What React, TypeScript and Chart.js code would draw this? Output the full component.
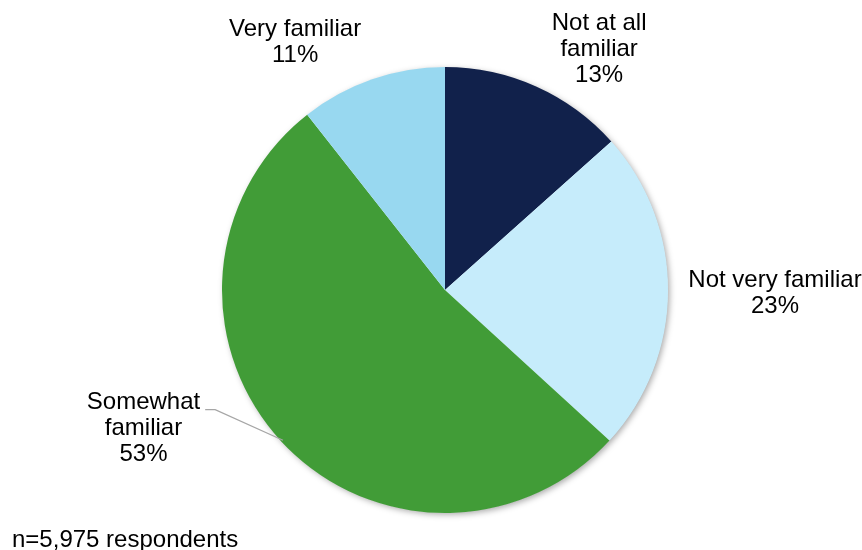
import React, { useEffect, useRef } from "react";
import { Chart, registerables } from "chart.js";

Chart.register(...registerables);

const categories = ["Not at all\nfamiliar", "Not very familiar", "Somewhat\nfamiliar", "Very familiar"];
const values = [13.4, 23.4, 52.6, 10.6];
const colors = ["#11214B", "#C6ECFB", "#419C37", "#98D8F0"];
const footnote = "n=5,975 respondents";
// label offsets (px) from the slice's outer mid-point
const labelOffsets = [
  [63, -37],
  [107, 2],
  [-138, -13],
  [-77, -37],
];

const FONT = "'Liberation Sans', Arial, sans-serif";

export default function App() {
  const ref = useRef<HTMLCanvasElement>(null);

  useEffect(() => {
    document.body.style.margin = "0";
    const shadowPlugin = {
      id: "pieShadow",
      beforeDatasetsDraw(chart: any) {
        const meta = chart.getDatasetMeta(0);
        const arc = meta.data[0];
        if (!arc) return;
        const { x, y, outerRadius } = arc.getProps(["x", "y", "outerRadius"], true);
        const ctx = chart.ctx;
        ctx.save();
        ctx.shadowColor = "rgba(0,0,0,0.35)";
        ctx.shadowBlur = 6;
        ctx.shadowOffsetX = 2;
        ctx.shadowOffsetY = 2;
        ctx.fillStyle = "#ffffff";
        ctx.beginPath();
        ctx.arc(x, y, outerRadius - 0.5, 0, Math.PI * 2);
        ctx.fill();
        ctx.restore();
      },
    };
    const labelPlugin = {
      id: "pieLabels",
      afterDatasetsDraw(chart: any) {
        const ctx = chart.ctx;
        const meta = chart.getDatasetMeta(0);
        ctx.save();
        ctx.font = `24px ${FONT}`;
        ctx.fillStyle = "#000000";
        ctx.textAlign = "center";
        ctx.textBaseline = "middle";
        const lh = 26;
        meta.data.forEach((arc: any, i: number) => {
          const { x, y, startAngle, endAngle, outerRadius } = arc.getProps(
            ["x", "y", "startAngle", "endAngle", "outerRadius"],
            true
          );
          const mid = (startAngle + endAngle) / 2;
          const px = x + Math.cos(mid) * outerRadius;
          const py = y + Math.sin(mid) * outerRadius;
          const cx = px + labelOffsets[i][0];
          const cy = py + labelOffsets[i][1];
          const lines = categories[i].split("\n").concat([Math.round(values[i]) + "%"]);
          const top = cy - ((lines.length - 1) * lh) / 2;
          lines.forEach((ln, k) => ctx.fillText(ln, cx, top + k * lh));
          if (i === 2) {
            // leader line from label to slice edge
            const ex = x + Math.cos(mid) * (outerRadius - 2);
            const ey = y + Math.sin(mid) * (outerRadius - 2);
            const w = ctx.measureText(lines[0]).width;
            const sx = cx + w / 2 + 5;
            const sy = top + 7;
            ctx.strokeStyle = "#A6A6A6";
            ctx.lineWidth = 1.3;
            ctx.beginPath();
            ctx.moveTo(sx, sy);
            ctx.lineTo(sx + 10, sy);
            ctx.lineTo(ex, ey);
            ctx.stroke();
          }
        });
        ctx.textAlign = "left";
        ctx.fillText(footnote, 12, chart.height - 10);
        ctx.restore();
      },
    };
    const chart = new Chart(ref.current!, {
      type: "pie",
      data: {
        labels: categories,
        datasets: [
          {
            data: values,
            backgroundColor: colors,
            borderWidth: 0,
          },
        ],
      },
      options: {
        responsive: false,
        animation: false,
        events: [],
        layout: { padding: { left: 222, top: 67, right: 194, bottom: 37 } },
        plugins: {
          legend: { display: false },
          tooltip: { enabled: false },
        },
      },
      plugins: [shadowPlugin, labelPlugin],
    });
    return () => chart.destroy();
  }, []);

  return (
    <div style={{ position: "relative", width: 862, height: 550 }}>
      <canvas ref={ref} width={862} height={550} style={{ display: "block" }} />
    </div>
  );
}
